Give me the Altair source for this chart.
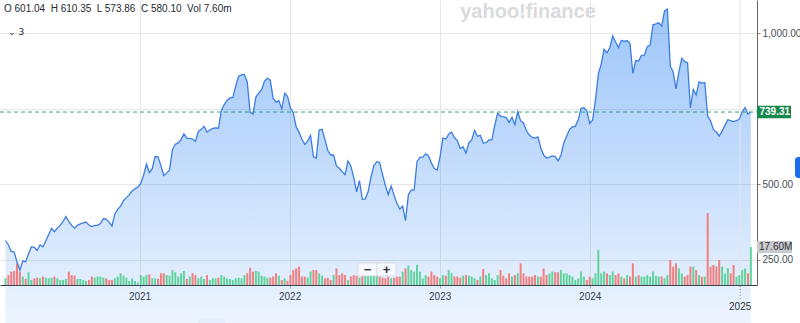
import altair as alt
import pandas as pd
import numpy as np

# ---------------- data (weekly) ----------------
first_week = "2020-02-10"

prices = [
    314, 299, 278, 276, 243, 216, 246, 244, 269, 293,
    291, 281, 299, 293, 312, 334, 354, 343, 355, 364,
    377, 393, 377, 364, 355, 364, 369, 372, 375, 365,
    360, 364, 364, 370, 386, 385, 374, 362, 402, 417,
    428, 446, 456, 465, 478, 485, 491, 503, 531, 567,
    539, 552, 592, 591, 562, 529, 537, 547, 615, 633,
    637, 648, 667, 652, 652, 650, 642, 675, 682, 692,
    673, 680, 685, 687, 686, 744, 764, 778, 786, 788,
    826, 858, 862, 864, 839, 738, 733, 789, 802, 813,
    842, 851, 845, 785, 772, 777, 750, 801, 791, 752,
    738, 690, 673, 649, 632, 643, 662, 591, 587, 680,
    682, 648, 612, 597, 597, 561, 553, 542, 532, 577,
    561, 523, 475, 512, 450, 451, 475, 524, 562, 575,
    572, 533, 496, 466, 494, 465, 437, 418, 428, 380,
    466, 481, 481, 575, 589, 590, 601, 594, 570, 552,
    547, 591, 653, 650, 666, 673, 655, 645, 619, 624,
    603, 637, 647, 678, 659, 662, 637, 638, 647, 647,
    695, 735, 726, 723, 721, 705, 722, 698, 740, 710,
    703, 678, 663, 655, 653, 657, 621, 597, 587, 590,
    594, 592, 578, 595, 638, 659, 682, 690, 692, 713,
    752, 754, 743, 702, 712, 779, 865, 898, 947, 935,
    953, 991, 971, 953, 977, 973, 976, 966, 867, 910,
    908, 927, 928, 956, 961, 1028, 1031, 1035, 1024, 1074,
    1080, 892, 872, 816, 872, 917, 907, 902, 753, 814,
    796, 839, 835, 837, 725, 710, 681, 673, 660, 676,
    696, 714, 711, 708, 711, 715, 740, 754, 733, 739.31,
]

volumes_m = [
    # 2020
    3.1, 4.6, 6.2, 6.5, 10.0, 6.2, 3.9, 2.8, 5.9, 2.3, 3.1, 3.4, 3.1, 3.9, 3.4,
    3.1, 3.4, 3.9, 3.1, 2.3, 2.3, 2.8, 6.2, 4.6, 4.3, 2.8, 2.8, 2.3, 1.9, 2.3,
    3.9, 3.4, 3.9, 3.9, 3.4, 3.1, 2.3, 2.3, 3.1, 3.9, 5.4, 4.3, 3.4, 1.9, 3.1,
    # 2021
    1.9, 1.2, 4.6, 3.9, 4.6, 4.9, 3.1, 3.1, 2.8, 5.4, 5.4, 4.6, 4.3, 6.9, 5.9,
    3.9, 5.4, 6.5, 2.8, 3.9, 5.4, 4.6, 3.1, 3.9, 2.8, 4.6, 2.3, 3.1, 3.1, 3.4,
    4.6, 3.9, 3.1, 2.8, 2.3, 3.1, 3.4, 3.1, 4.6, 5.4, 8.0, 6.2, 6.5,
    # 2022
    6.2, 4.3, 3.9, 3.4, 3.4, 3.9, 5.4, 4.3, 2.3, 3.1, 1.9, 4.6, 6.9, 7.7, 8.5,
    3.9, 3.9, 3.4, 6.2, 6.9, 6.9, 5.4, 4.3, 3.1, 3.4, 2.3, 4.6, 7.7, 4.6, 5.4,
    4.6, 2.3, 3.9, 4.6, 4.3, 3.4, 4.6, 4.3, 4.3, 4.3, 4.3, 4.3, 3.9, 3.4, 3.1,
    3.9, 3.1, 3.4, 3.9,
    # 2023 - 2025
    3.9, 6.2, 7.7, 9.0, 6.9, 6.2, 9.3, 6.2, 3.1, 4.6, 3.9, 6.2, 4.6, 3.9, 3.1,
    4.6, 4.3, 6.9, 5.4, 3.9, 3.9, 3.4, 4.3, 4.6, 4.3, 3.9, 3.1, 2.3, 3.9,
    7.4,
    4.6, 5.4, 3.1, 2.3, 4.6, 6.9, 4.3, 3.1, 5.4, 3.9, 4.6, 5.4,
    10.0,
    5.4, 3.9, 3.9, 3.9, 4.6, 3.9, 3.9,
    7.7,
    4.6, 5.4, 6.2, 5.9, 5.9, 6.9, 5.4, 5.4, 4.6, 3.9, 2.3, 3.1, 6.2, 3.9, 2.3,
    3.9, 3.1, 5.4,
    16.3,
    5.4, 6.2, 5.4, 4.6, 6.2, 4.6, 5.4, 3.9, 3.1, 4.6, 3.9,
    10.0,
    3.9, 4.6, 3.9, 3.9, 4.6, 3.9, 6.2, 4.3, 3.9, 3.9, 3.1, 4.6,
    11.6,
    8.5, 10.0, 7.7, 5.4, 3.9, 4.6, 8.5, 8.5, 6.9, 4.6, 3.9, 3.9,
    33.3,
    8.5, 9.3, 8.5, 11.6, 8.5, 5.4, 7.7, 5.4, 9.3, 3.9, 4.6, 6.9, 7.7, 5.4,
    17.6,
]

assert len(prices) == len(volumes_m), (len(prices), len(volumes_m))

header_text = "O 601.04\u00a0\u00a0H 610.35\u00a0\u00a0L 573.86\u00a0\u00a0C 580.10\u00a0\u00a0Vol 7.60m"
interval_text = "\u2304 3"
watermark_text = "yahoo!finance"
year_ticks = [2021, 2022, 2023, 2024]
last_year_label = "2025"
price_ticks = [250, 500, 750, 1000]
hidden_tick = 750  # covered by the last-price tag in the reference

# ---------------- tables ----------------
dates = pd.date_range(first_week, periods=len(prices), freq="7D").strftime("%Y-%m-%d")
df = pd.DataFrame({"date": dates, "price": prices, "volume": volumes_m})
df["dir"] = np.where(df["price"].diff().fillna(0) >= 0, "up", "down")

last_price_df = pd.DataFrame({"price": [prices[-1]], "label": [f"{prices[-1]:.2f}"]})
last_vol_df = pd.DataFrame({"volume": [volumes_m[-1]], "label": [f"{volumes_m[-1]:.2f}M"]})
year2025_df = pd.DataFrame({"date": [f"{last_year_label}-01-01"], "label": [last_year_label]})

FONT = "Liberation Sans"
W, H = 757, 285

xscale = alt.Scale(
    type="utc",
    domain=[
        alt.DateTime(year=2020, month=2, date=8, hours=19, utc=True),
        alt.DateTime(year=2025, month=1, date=29, hours=19, utc=True),
    ],
)
xaxis = alt.Axis(
    values=[alt.DateTime(year=y, month=1, date=1, utc=True) for y in year_ticks],
    format="%Y", title=None, grid=True, gridColor="#e6e6e6",
    tickSize=3, tickColor="#b0b0b0", domainColor="#3a3a3a",
    labelFont=FONT, labelFontSize=10, labelColor="#333333", labelPadding=3,
    labelOverlap=False, labelFlush=False,
)
X = alt.X("date:T", scale=xscale, axis=xaxis)

pscale = alt.Scale(domain=[166.6, 1110.3], nice=False, zero=False)
vscale = alt.Scale(domain=[0, 132], nice=False, zero=True)

yaxis = alt.Axis(
    orient="right", values=price_ticks, format=",.2f", title=None, grid=True,
    labelExpr=f"datum.value == {hidden_tick} ? '' : format(datum.value, ',.2f')",
    gridColor="#e6e6e6", tickSize=3, tickColor="#888888", domainColor="#666666",
    labelFont=FONT, labelFontSize=10, labelColor="#464e56", labelPadding=2,
)

base = alt.Chart(df)

area = base.mark_area(
    color=alt.Gradient(
        gradient="linear",
        stops=[
            alt.GradientStop(color="rgba(60,140,245,0.5)", offset=0),
            alt.GradientStop(color="rgba(60,140,245,0.08)", offset=1),
        ],
        x1=1, x2=1, y1=0, y2=1,
    )
).encode(x=X, y=alt.Y("price:Q", scale=pscale, axis=yaxis), y2=alt.value(H))

bars = base.mark_bar(size=2).encode(
    x=X,
    y=alt.Y("volume:Q", scale=vscale, axis=None),
    color=alt.Color("dir:N", scale=alt.Scale(domain=["up", "down"], range=["#62d39e", "#f07f7f"]), legend=None),
)

line = base.mark_line(color="#3b7de0", strokeWidth=1.3).encode(
    x=X, y=alt.Y("price:Q", scale=pscale, axis=None)
)

grid2025 = alt.Chart(year2025_df).mark_rule(color="#e6e6e6").encode(
    x=X, y=alt.value(0), y2=alt.value(H)
)
tick2025 = alt.Chart(year2025_df).mark_rule(color="#888888", strokeDash=[1, 2]).encode(
    x=X, y=alt.value(H + 1), y2=alt.value(H + 15)
)
label2025 = alt.Chart(year2025_df).mark_text(
    font=FONT, fontSize=10, color="#333333", baseline="middle"
).encode(x=X, y=alt.value(H + 22), text="label:N")

dash = alt.Chart(last_price_df).mark_rule(color="#3c9d7e", strokeDash=[4, 3], strokeWidth=1).encode(
    y=alt.Y("price:Q", scale=pscale, axis=None), x=alt.value(0), x2=alt.value(W)
)
price_tag = alt.Chart(last_price_df).mark_rule(color="#17884b", strokeWidth=12.5).encode(
    y=alt.Y("price:Q", scale=pscale, axis=None), x=alt.value(W), x2=alt.value(W + 34)
)
price_txt = alt.Chart(last_price_df).mark_text(
    font=FONT, fontSize=10, fontWeight="bold", color="white", align="left", baseline="middle"
).encode(y=alt.Y("price:Q", scale=pscale, axis=None), x=alt.value(W + 2.5), text="label:N")

vol_tag = alt.Chart(last_vol_df).mark_rule(color="#c8c9cd", strokeWidth=12).encode(
    y=alt.Y("volume:Q", scale=vscale, axis=None), x=alt.value(W), x2=alt.value(W + 35)
)
vol_txt = alt.Chart(last_vol_df).mark_text(
    font=FONT, fontSize=10, color="#2c2f33", align="left", baseline="middle"
).encode(y=alt.Y("volume:Q", scale=vscale, axis=None), x=alt.value(W + 2), text="label:N")

header = alt.Chart(pd.DataFrame({"t": [header_text]})).mark_text(
    font=FONT, fontSize=10, color="#232a31", align="left", baseline="middle"
).encode(x=alt.value(4), y=alt.value(8.5), text="t:N")

interval = alt.Chart(pd.DataFrame({"t": [interval_text]})).mark_text(
    font="DejaVu Sans", fontSize=9, color="#232a31", align="left", baseline="middle"
).encode(x=alt.value(8), y=alt.value(31.5), text="t:N")

watermark = alt.Chart(pd.DataFrame({"t": [watermark_text]})).mark_text(
    font=FONT, fontSize=20, fontWeight=900, color="#dadbde", align="center", baseline="middle"
).encode(x=alt.value(528), y=alt.value(12), text="t:N")

one = pd.DataFrame({"t": [""]})
zoom_box = alt.Chart(one).mark_rect(fill="white", fillOpacity=0.7, stroke="#d6d6d6", strokeWidth=0.8, cornerRadius=2).encode(
    x=alt.value(358), x2=alt.value(396), y=alt.value(263), y2=alt.value(276)
)
zoom_sep = alt.Chart(one).mark_rule(color="#d6d6d6").encode(
    x=alt.value(377), y=alt.value(263), y2=alt.value(276)
)
zoom_minus = alt.Chart(pd.DataFrame({"t": ["\u2212"]})).mark_text(
    font=FONT, fontSize=13, fontWeight="bold", color="#333333", baseline="middle"
).encode(x=alt.value(367.5), y=alt.value(269.5), text="t:N")
zoom_plus = alt.Chart(pd.DataFrame({"t": ["+"]})).mark_text(
    font=FONT, fontSize=13, fontWeight="bold", color="#333333", baseline="middle"
).encode(x=alt.value(386.5), y=alt.value(269.5), text="t:N")

side_tab = alt.Chart(one).mark_rect(color="#1e6ee8", cornerRadius=3).encode(
    x=alt.value(795), x2=alt.value(808), y=alt.value(157), y2=alt.value(178)
)
bottom_tab = alt.Chart(one).mark_rect(color="#e3edfb", cornerRadius=4).encode(
    x=alt.value(198), x2=alt.value(225), y=alt.value(318), y2=alt.value(330)
)

chart = alt.layer(
    area, grid2025, bars, line, dash, tick2025, label2025,
    price_tag, price_txt, vol_tag, vol_txt,
    watermark, header, interval,
    zoom_box, zoom_sep, zoom_minus, zoom_plus, side_tab, bottom_tab,
).resolve_scale(y="independent").properties(
    width=W, height=H,
    autosize="none",
    padding={"left": 0, "top": 0, "right": 800 - W, "bottom": 323 - H},
    background="white",
).configure_view(stroke=None)

chart.save("out.html", embed_options={"renderer": "svg", "actions": False})
